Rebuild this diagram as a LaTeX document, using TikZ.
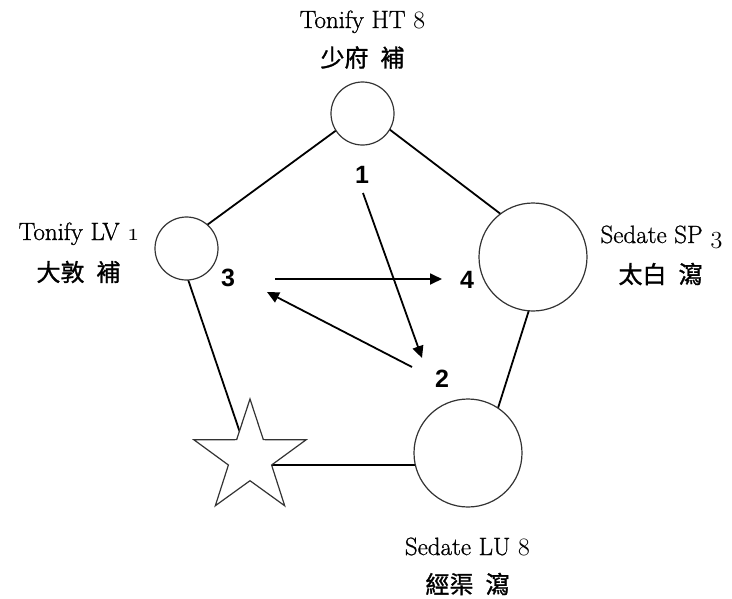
\documentclass[tikz,border=0pt]{standalone}
\usepackage{fontspec}
\newfontfamily\latinfont{Latin Modern Roman}[FakeBold=0.9]
\newfontfamily\cjk{Noto Sans CJK TC}[FakeBold=1.2]
\newfontfamily\numfont{Liberation Sans}
\usetikzlibrary{arrows.meta,shapes.geometric}

% old-style figures taken from the Latin Modern math italic
\newcommand\osnum[1]{{\usefont{OML}{lmm}{b}{it}#1}}

\tikzset{
  edge/.style={line width=1.8pt, draw=black},
  point/.style={circle, draw=black!80, line width=1.2pt, fill=white, inner sep=0pt},
  smallpt/.style={point, minimum size=63pt},
  largept/.style={point, minimum size=108pt},
  starpt/.style={star, star points=5, star point ratio=2.6, draw=black!80,
    line width=1.2pt, fill=white, inner sep=0pt, minimum size=118pt},
  latin/.style={font=\latinfont\fontsize{25}{30}\selectfont, anchor=base, inner sep=0pt},
  hanzi/.style={font=\cjk\fontsize{24}{28}\selectfont, inner sep=0pt},
  num/.style={font=\numfont\bfseries\fontsize{25}{30}\selectfont, inner sep=0pt},
  flow/.style={line width=1.8pt, -{Triangle[length=12pt,width=11pt]}},
}

\begin{document}
\begin{tikzpicture}[x=1pt,y=-1pt]
  \fill[white] (0,0) rectangle (732,598);
  \useasboundingbox (0,0) rectangle (732,598);

  % corners of the pentagon
  \coordinate (vt) at (364,110);
  \coordinate (vl) at (177,247);
  \coordinate (vr) at (548,250);
  \coordinate (vbr) at (480,465);
  \coordinate (vbl) at (251,465);

  \draw[edge] (vt) -- (vl);
  \draw[edge] (vt) -- (vr);
  \draw[edge] (vr) -- (vbr);
  \draw[edge] (vbr) -- (vbl);
  \draw[edge] (vbl) -- (vl);

  % points on the cycle
  \node[smallpt] (ht) at (362.5,113.5) {};
  \node[smallpt] (lv) at (186.5,248.5) {};
  \node[largept] (sp) at (533,257) {};
  \node[largept] (lu) at (468,453) {};
  \node[starpt] (st) at (250,458) {};

  % labels
  \node[latin] (htname) at (362.5,28) {Tonify HT \osnum{8}};
  \node[hanzi] (htcn) at (362.5,57.5) {少府\hspace{12pt}補};
  \node[latin] (lvname) at (79,240) {Tonify LV \osnum{1}};
  \node[hanzi] (lvcn) at (78.5,272) {大敦\hspace{12pt}補};
  \node[latin] (spname) at (661.5,243) {Sedate SP \osnum{3}};
  \node[hanzi] (spcn) at (660.5,274) {太白\hspace{12pt}瀉};
  \node[latin] (luname) at (467.5,555) {Sedate LU \osnum{8}};
  \node[hanzi] (lucn) at (467.5,584) {經渠\hspace{12pt}瀉};

  % order numbers
  \node[num] (n1) at (362,175) {1};
  \node[num] (n2) at (442,379) {2};
  \node[num] (n3) at (228,278) {3};
  \node[num] (n4) at (467,280) {4};

  \draw[flow] ([shift={(1,18)}]n1.center) -- ([shift={(-20,-21)}]n2.center);
  \draw[flow] ([shift={(47,1)}]n3.center) -- ([shift={(-25,-1)}]n4.center);
  \draw[flow] ([shift={(-30,-12)}]n2.center) -- ([shift={(39,14)}]n3.center);
\end{tikzpicture}
\end{document}
